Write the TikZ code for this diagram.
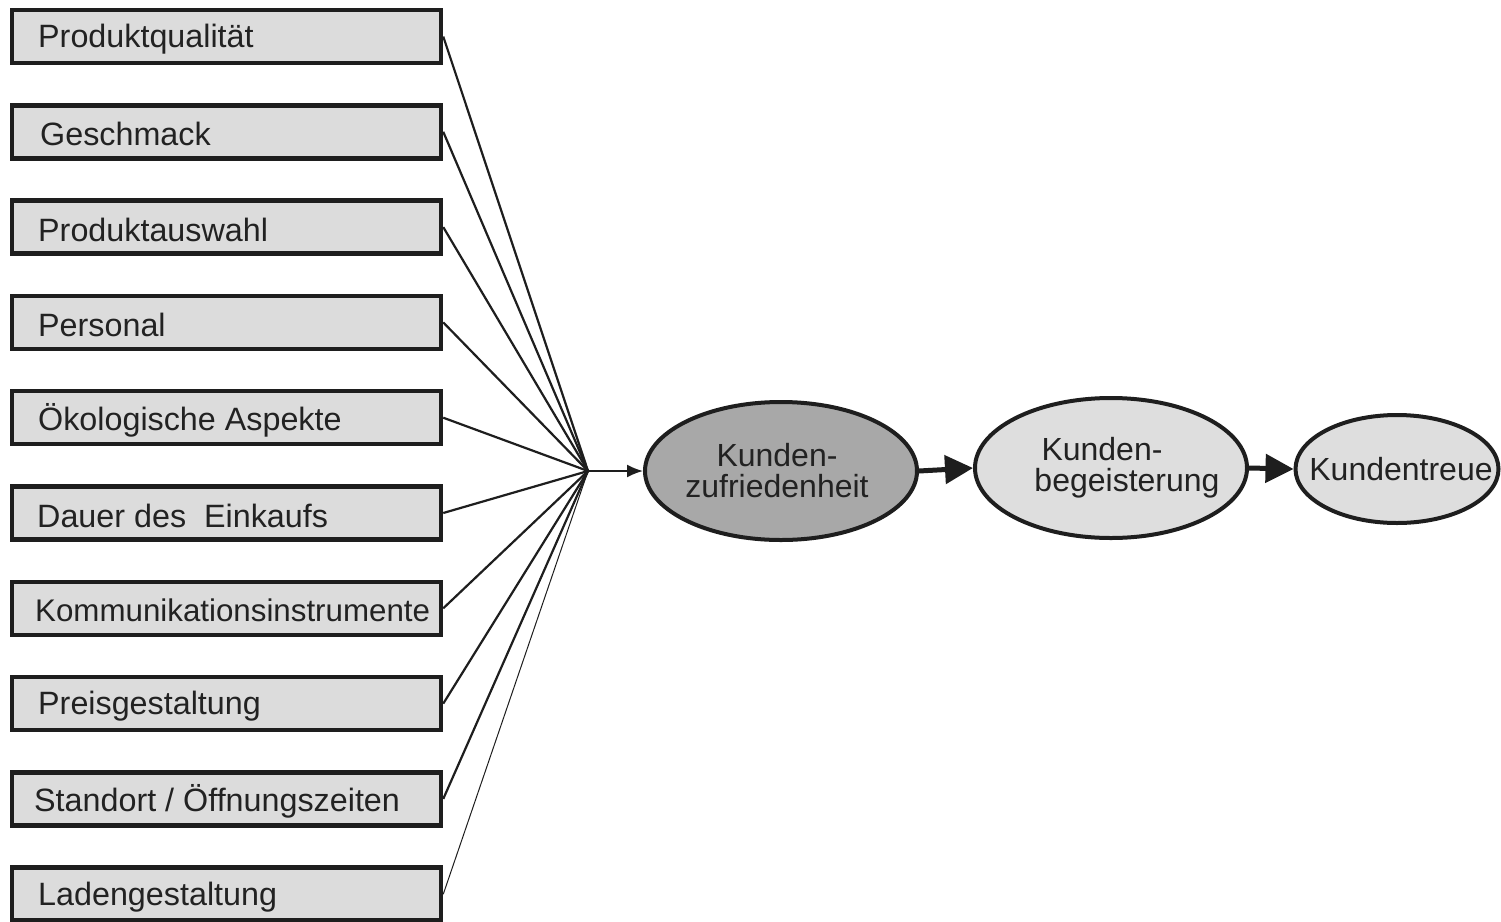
\documentclass[tikz,border=0pt]{standalone}
\usepackage{fontspec}
\setmainfont{Liberation Sans}
\usetikzlibrary{shapes.geometric,arrows.meta}
\definecolor{boxfill}{HTML}{DCDCDC}
\definecolor{darkfill}{HTML}{A8A8A8}
\definecolor{lightfill}{HTML}{DEDEDE}
\definecolor{ink}{HTML}{1E1E1E}
\definecolor{txt}{HTML}{222222}
\tikzset{
  factor/.style={draw=ink, line width=4.5pt, fill=boxfill, minimum width=429pt, minimum height=53pt, inner sep=0pt},
  lbl/.style={anchor=west, text=txt, font=\fontsize{32.3}{36}\selectfont, inner sep=0pt},
  oval/.style={ellipse, draw=ink, line width=4pt, inner sep=0pt},
  ovaltext/.style={align=center, text=txt, inner sep=0pt, font=\fontsize{32}{31}\selectfont},
  feed/.style={draw=ink, line width=2.2pt},
  bigarrow/.style={draw=ink, line width=5pt, -{Triangle[length=28pt,width=28pt]}}
}
\begin{document}
\begin{tikzpicture}[x=1pt,y=-1pt]
\fill[white] (0,0) rectangle (1501,921);
\useasboundingbox (0,0) rectangle (1501,921);
\begin{scope}
\clip (0,0) rectangle (1501,921);
\foreach \i/\t/\xo in {1/{Produktqualität}/38, 2/{Geschmack}/40, 3/{Produktauswahl}/38, 4/{Personal}/38, 5/{Ökologische Aspekte}/38, 6/{Dauer des\ \ Einkaufs}/37, 7/{\fontsize{31.3}{36}\selectfont Kommunikationsinstrumente}/35, 8/{Preisgestaltung}/38, 9/{Standort / Öffnungszeiten}/34, 10/{Ladengestaltung}/38} {
  \node[factor] (b\i) at (226.5, {36.5+95.3*(\i-1)}) {};
  \node[lbl] (t\i) at (\xo, {39+95.3*(\i-1)}) {\t};
}
\end{scope}
\coordinate (hub) at (588,471);
\foreach \i in {1,...,9} { \draw[feed] (b\i.east) -- (hub); }
\draw[draw=ink, line width=1pt] (b10.east) -- (hub);
\node[oval, fill=darkfill, minimum width=272pt, minimum height=138pt] (kz) at (781,471) {};
\node[oval, fill=lightfill, minimum width=272pt, minimum height=140pt] (kb) at (1111,468) {};
\node[oval, fill=lightfill, minimum width=203pt, minimum height=108pt] (kt) at (1397,469) {};
\node[ovaltext] (kzt) at (777,471) {Kunden-\\zufriedenheit};
\node[ovaltext] (kbt) at (1127,468) {\hspace*{-50pt}Kunden-\\begeisterung};
\node[ovaltext] (ktt) at (1401,469) {Kundentreue};
\draw[draw=ink, line width=1.8pt, -{Latex[length=16pt,width=13pt]}] (hub) -- (kz.west);
\draw[bigarrow] (kz.east) -- (kb.west);
\draw[bigarrow] (kb.east) -- (kt.west);
\end{tikzpicture}
\end{document}
